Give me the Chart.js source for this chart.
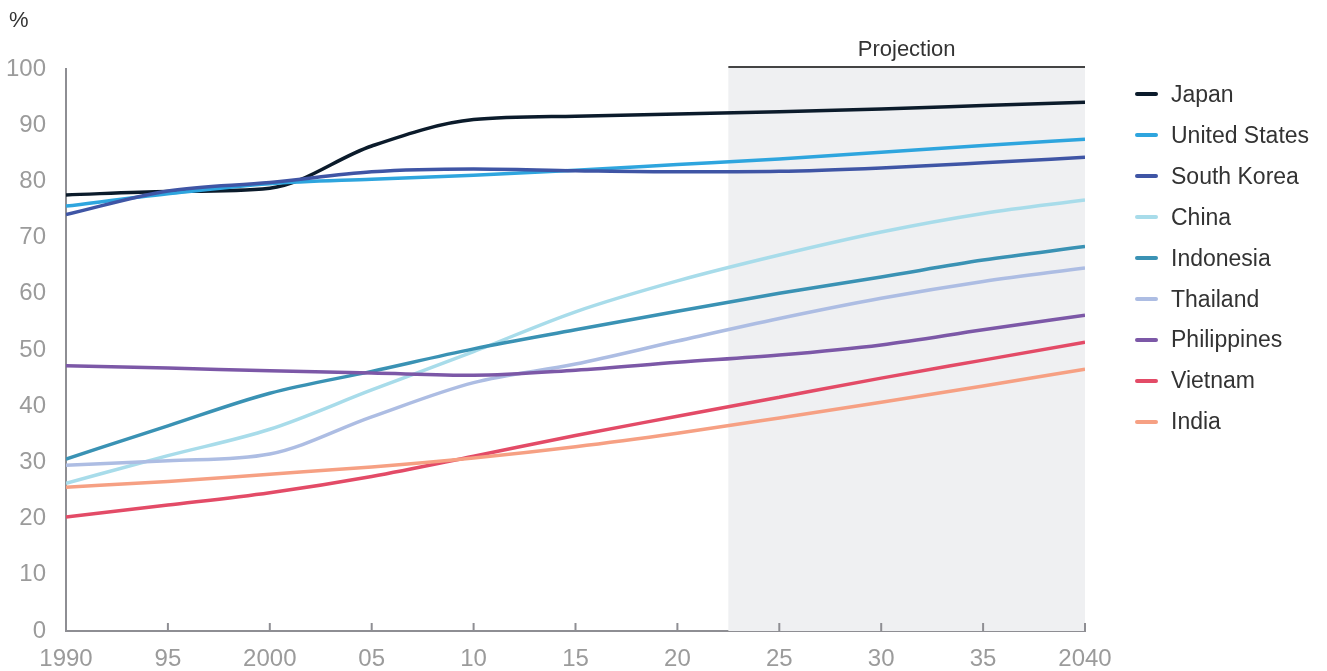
<!DOCTYPE html>
<html>
<head>
<meta charset="utf-8">
<title>Urbanisation rate</title>
<script src="https://cdn.jsdelivr.net/npm/chart.js@4.4.1/dist/chart.umd.min.js"></script>
<style>
    body { margin: 0; background: #fff; font-family: "Liberation Sans", Arial, sans-serif; }
    #wrap { position: relative; width: 1327px; height: 671px; }
    #unit { position: absolute; left: 9px; top: 7px; font-size: 22px; color: #333; }
    #legend { position: absolute; left: 1135px; top: 0; margin: 0; padding: 0; list-style: none; }
    #legend li { position: absolute; left: 0; white-space: nowrap; font-size: 23px; color: #333; line-height: 26px; }
    #legend span { display: inline-block; width: 23px; height: 4px; border-radius: 2px; vertical-align: middle; margin-right: 13px; margin-top: -3px; }
</style>
</head>
<body>
<div id="wrap">
    <canvas id="chart" width="1327" height="671"></canvas>
    <div id="unit">%</div>
    <ul id="legend"></ul>
</div>
<script>
// years on the x axis
const years = [1990, 1995, 2000, 2005, 2010, 2015, 2020, 2025, 2030, 2035, 2040];
const xTickLabels = ['1990', '95', '2000', '05', '10', '15', '20', '25', '30', '35', '2040'];
const projectionStart = 2022.5;

// share of population, %
const japan       = [77.6, 78.2, 78.8, 86.3, 91.0, 91.6, 92.0, 92.4, 92.9, 93.5, 94.1];
const unitedStates = [75.6, 77.8, 79.6, 80.4, 81.1, 82.0, 83.0, 84.0, 85.2, 86.4, 87.5];
const southKorea  = [74.1, 78.3, 79.8, 81.7, 82.2, 81.9, 81.7, 81.8, 82.4, 83.3, 84.3];
const china       = [26.3, 31.2, 35.9, 42.9, 49.7, 56.8, 62.3, 66.9, 71.0, 74.3, 76.7];
const indonesia   = [30.6, 36.5, 42.3, 46.2, 50.2, 53.6, 56.9, 60.1, 63.0, 66.0, 68.4];
const thailand    = [29.5, 30.3, 31.5, 38.1, 44.2, 47.5, 51.6, 55.6, 59.2, 62.2, 64.6];
const philippines = [47.2, 46.8, 46.3, 45.9, 45.5, 46.4, 47.8, 49.1, 50.9, 53.6, 56.2];
const vietnam     = [20.3, 22.4, 24.6, 27.5, 31.1, 34.8, 38.2, 41.6, 45.0, 48.2, 51.4];
const india       = [25.6, 26.6, 27.9, 29.2, 30.8, 32.8, 35.2, 37.9, 40.7, 43.6, 46.6];

const countries = ['Japan', 'United States', 'South Korea', 'China', 'Indonesia', 'Thailand', 'Philippines', 'Vietnam', 'India'];
const seriesValues = [japan, unitedStates, southKorea, china, indonesia, thailand, philippines, vietnam, india];
const colors = ['#0b1b2b', '#2ea5de', '#3f55a5', '#a8dcea', '#3a92b4', '#adbde3', '#7c58a7', '#e34b67', '#f6a083'];

const axisColor = '#8e8e93';
const tickColor = '#9b9b9b';

// legend on the right (html, so rows sit where they should)
const legend = document.getElementById('legend');
countries.forEach((name, i) => {
    const li = document.createElement('li');
    li.style.top = (81 + i * 40.9) + 'px';
    li.innerHTML = `<span style="background:${colors[i]}"></span>${name}`;
    legend.appendChild(li);
});

// grey box + label for the projected years, and inward tick marks
const projectionPlugin = {
    id: 'projection',
    beforeDatasetsDraw(chart) {
        const { ctx, chartArea, scales } = chart;
        const x0 = scales.x.getPixelForValue(projectionStart);
        const x1 = chartArea.right;
        ctx.save();
        ctx.fillStyle = '#eff0f2';
        ctx.fillRect(x0, chartArea.top - 2, x1 - x0, chartArea.bottom - chartArea.top + 2);
        ctx.strokeStyle = '#444';
        ctx.lineWidth = 2;
        ctx.beginPath();
        ctx.moveTo(x0, chartArea.top - 2);
        ctx.lineTo(x1, chartArea.top - 2);
        ctx.stroke();
        ctx.fillStyle = '#333';
        ctx.font = '22px "Liberation Sans", Arial, sans-serif';
        ctx.textAlign = 'center';
        ctx.textBaseline = 'alphabetic';
        ctx.fillText('Projection', (x0 + x1) / 2, chartArea.top - 13);
        ctx.restore();
    },
    afterDraw(chart) {
        const { ctx, chartArea, scales } = chart;
        ctx.save();
        ctx.strokeStyle = axisColor;
        ctx.lineWidth = 2;
        years.forEach(yr => {
            if (yr === years[0]) return;
            const x = scales.x.getPixelForValue(yr);
            ctx.beginPath();
            ctx.moveTo(x, chartArea.bottom);
            ctx.lineTo(x, chartArea.bottom - 8);
            ctx.stroke();
        });
        ctx.restore();
    }
};

const ctx = document.getElementById('chart').getContext('2d');
const myChart = new Chart(ctx, {
    type: 'line',
    data: {
        datasets: countries.map((name, i) => ({
            label: name,
            data: years.map((yr, j) => ({ x: yr, y: seriesValues[i][j] })),
            borderColor: colors[i],
            backgroundColor: colors[i],
            borderWidth: 3.5,
            pointRadius: 0,
            cubicInterpolationMode: 'monotone',
            order: countries.length - i
        }))
    },
    options: {
        responsive: false,
        animation: false,
        layout: { padding: { top: 69, right: 242, left: 0, bottom: 0 } },
        plugins: { legend: { display: false }, tooltip: { enabled: false } },
        scales: {
            x: {
                type: 'linear',
                min: 1990,
                max: 2040,
                afterBuildTicks: scale => { scale.ticks = years.map(v => ({ value: v })); },
                afterFit: scale => { scale.height = 40; },
                ticks: {
                    autoSkip: false,
                    maxRotation: 0,
                    padding: 6,
                    color: tickColor,
                    font: { size: 24, family: '"Liberation Sans", Arial, sans-serif' },
                    callback: v => xTickLabels[years.indexOf(v)]
                },
                grid: { display: false },
                border: { display: true, color: axisColor, width: 2 }
            },
            y: {
                min: 0,
                max: 100,
                afterFit: scale => { scale.width = 66; },
                ticks: {
                    stepSize: 10,
                    padding: 12,
                    color: tickColor,
                    font: { size: 24, family: '"Liberation Sans", Arial, sans-serif' }
                },
                grid: { display: false },
                border: { display: true, color: axisColor, width: 2 }
            }
        }
    },
    plugins: [projectionPlugin]
});
</script>
</body>
</html>
